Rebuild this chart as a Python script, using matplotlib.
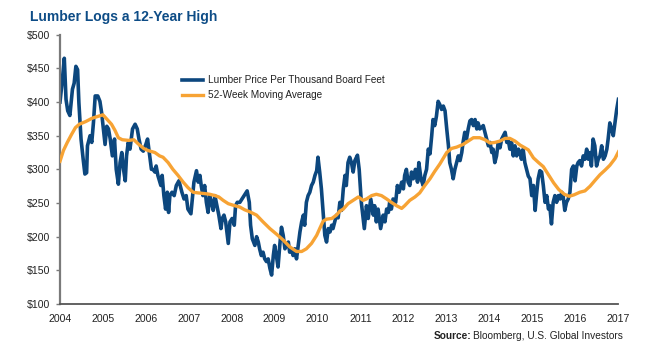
import matplotlib
matplotlib.use("Agg")
import matplotlib.pyplot as plt

# weekly lumber price (decimal year, $ per thousand board feet)
price_year = [
    2004.00, 2004.05, 2004.10, 2004.14, 2004.18, 2004.23, 2004.29, 2004.33, 2004.37, 2004.41,
    2004.44, 2004.49, 2004.54, 2004.58, 2004.62, 2004.64, 2004.70, 2004.74, 2004.78, 2004.82,
    2004.88, 2004.93, 2004.97, 2005.01, 2005.05, 2005.09, 2005.13, 2005.17, 2005.22, 2005.27,
    2005.31, 2005.36, 2005.40, 2005.44, 2005.48, 2005.52, 2005.55, 2005.59, 2005.63, 2005.69,
    2005.75, 2005.80, 2005.84, 2005.89, 2005.94, 2006.00, 2006.04, 2006.07, 2006.13, 2006.17,
    2006.21, 2006.24, 2006.28, 2006.35, 2006.38, 2006.42, 2006.46, 2006.50, 2006.53, 2006.56,
    2006.61, 2006.66, 2006.71, 2006.77, 2006.80, 2006.84, 2006.89, 2006.94, 2006.98, 2007.05,
    2007.09, 2007.12, 2007.18, 2007.22, 2007.26, 2007.29, 2007.33, 2007.37, 2007.41, 2007.45,
    2007.49, 2007.53, 2007.57, 2007.61, 2007.64, 2007.70, 2007.75, 2007.78, 2007.82, 2007.86,
    2007.92, 2007.96, 2008.01, 2008.06, 2008.09, 2008.13, 2008.19, 2008.24, 2008.29, 2008.36,
    2008.41, 2008.44, 2008.48, 2008.54, 2008.58, 2008.62, 2008.65, 2008.69, 2008.73, 2008.77,
    2008.81, 2008.85, 2008.89, 2008.93, 2008.97, 2009.00, 2009.04, 2009.08, 2009.12, 2009.16,
    2009.20, 2009.24, 2009.28, 2009.32, 2009.35, 2009.39, 2009.43, 2009.47, 2009.51, 2009.55,
    2009.59, 2009.63, 2009.67, 2009.70, 2009.74, 2009.78, 2009.82, 2009.86, 2009.90, 2009.94,
    2009.98, 2010.01, 2010.05, 2010.09, 2010.13, 2010.17, 2010.21, 2010.25, 2010.29, 2010.33,
    2010.36, 2010.40, 2010.44, 2010.48, 2010.52, 2010.56, 2010.60, 2010.64, 2010.67, 2010.71,
    2010.75, 2010.79, 2010.83, 2010.87, 2010.93, 2010.97, 2011.02, 2011.09, 2011.14, 2011.18,
    2011.24, 2011.30, 2011.33, 2011.37, 2011.41, 2011.47, 2011.53, 2011.57, 2011.61, 2011.65,
    2011.68, 2011.72, 2011.76, 2011.82, 2011.86, 2011.90, 2011.96, 2012.00, 2012.03, 2012.07,
    2012.11, 2012.15, 2012.19, 2012.23, 2012.28, 2012.33, 2012.36, 2012.41, 2012.46, 2012.50,
    2012.54, 2012.58, 2012.62, 2012.66, 2012.69, 2012.73, 2012.77, 2012.81, 2012.85, 2012.89,
    2012.93, 2012.97, 2013.01, 2013.05, 2013.08, 2013.12, 2013.16, 2013.20, 2013.24, 2013.28,
    2013.32, 2013.36, 2013.39, 2013.43, 2013.47, 2013.51, 2013.55, 2013.59, 2013.63, 2013.67,
    2013.71, 2013.74, 2013.78, 2013.82, 2013.86, 2013.90, 2013.94, 2013.98, 2014.02, 2014.06,
    2014.09, 2014.13, 2014.17, 2014.21, 2014.25, 2014.29, 2014.33, 2014.37, 2014.41, 2014.44,
    2014.48, 2014.52, 2014.56, 2014.60, 2014.64, 2014.68, 2014.72, 2014.75, 2014.79, 2014.83,
    2014.87, 2014.91, 2014.95, 2014.99, 2015.03, 2015.07, 2015.10, 2015.14, 2015.18, 2015.22,
    2015.26, 2015.30, 2015.34, 2015.38, 2015.41, 2015.45, 2015.49, 2015.53, 2015.57, 2015.61,
    2015.65, 2015.69, 2015.72, 2015.76, 2015.80, 2015.84, 2015.88, 2015.92, 2015.96, 2016.00,
    2016.04, 2016.07, 2016.11, 2016.15, 2016.19, 2016.23, 2016.27, 2016.31, 2016.35, 2016.38,
    2016.42, 2016.46, 2016.50, 2016.54, 2016.58, 2016.62, 2016.66, 2016.70, 2016.74, 2016.77,
    2016.81, 2016.85, 2016.89, 2016.93, 2016.97, 2017.01,
]
price_value = [
    400, 430, 465, 404, 387, 380, 419, 428, 453, 448,
    399, 345, 315, 293, 295, 335, 350, 340, 370, 409,
    409, 401, 384, 360, 337, 364, 360, 345, 320, 345,
    300, 278, 310, 325, 300, 283, 320, 340, 330, 360,
    367, 360, 345, 330, 327, 337, 345, 330, 300, 300,
    296, 305, 291, 276, 291, 261, 241, 266, 236, 261,
    266, 261, 276, 283, 276, 266, 256, 261, 241, 234,
    261, 281, 298, 281, 291, 276, 261, 276, 251, 236,
    261, 251, 239, 261, 251, 232, 212, 227, 232, 222,
    190, 222, 227, 217, 246, 251, 251, 256, 261, 268,
    251, 217, 197, 187, 200, 192, 182, 172, 177, 167,
    163, 167, 153, 143, 172, 187, 172, 155, 187, 214,
    202, 182, 187, 192, 177, 182, 172, 182, 167, 187,
    207, 222, 232, 217, 251, 261, 266, 276, 281, 291,
    298, 318, 296, 271, 236, 202, 192, 212, 207, 217,
    212, 222, 232, 228, 251, 239, 271, 291, 276, 310,
    318, 310, 296, 313, 321, 300, 251, 212, 246, 227,
    256, 232, 246, 222, 241, 212, 232, 222, 241, 236,
    251, 241, 256, 251, 276, 266, 281, 271, 291, 300,
    281, 276, 296, 286, 300, 281, 310, 286, 276, 291,
    300, 330, 323, 350, 374, 365, 379, 401, 396, 389,
    394, 387, 360, 335, 310, 300, 286, 300, 310, 320,
    313, 325, 340, 355, 345, 360, 372, 374, 365, 374,
    360, 369, 360, 362, 365, 355, 345, 335, 340, 325,
    330, 310, 320, 340, 332, 345, 350, 355, 340, 345,
    330, 340, 320, 335, 320, 330, 325, 315, 330, 310,
    300, 290, 286, 261, 276, 239, 261, 286, 298, 296,
    276, 251, 261, 241, 246, 219, 251, 261, 251, 261,
    256, 266, 261, 239, 251, 256, 266, 300, 305, 283,
    305, 310, 313, 305, 320, 315, 330, 315, 325, 305,
    345, 335, 305, 315, 320, 335, 315, 320, 330, 345,
    369, 360, 350, 369, 389, 404,
]

# 52-week moving average
ma_year = [
    2004.00, 2004.08, 2004.17, 2004.27, 2004.36, 2004.45, 2004.60, 2004.75, 2004.90, 2005.00,
    2005.10, 2005.20, 2005.28, 2005.36, 2005.45, 2005.60, 2005.72, 2005.82, 2005.95, 2006.05,
    2006.21, 2006.32, 2006.40, 2006.52, 2006.63, 2006.75, 2006.87, 2006.98, 2007.10, 2007.22,
    2007.37, 2007.49, 2007.61, 2007.70, 2007.80, 2007.92, 2008.07, 2008.19, 2008.30, 2008.42,
    2008.58, 2008.73, 2008.89, 2009.04, 2009.20, 2009.35, 2009.51, 2009.63, 2009.74, 2009.86,
    2009.98, 2010.05, 2010.13, 2010.21, 2010.33, 2010.44, 2010.52, 2010.60, 2010.71, 2010.83,
    2010.95, 2011.06, 2011.14, 2011.26, 2011.37, 2011.49, 2011.61, 2011.72, 2011.84, 2011.96,
    2012.03, 2012.15, 2012.27, 2012.38, 2012.50, 2012.62, 2012.73, 2012.85, 2013.01, 2013.12,
    2013.24, 2013.39, 2013.51, 2013.63, 2013.78, 2013.90, 2014.02, 2014.13, 2014.25, 2014.37,
    2014.48, 2014.60, 2014.72, 2014.83, 2014.91, 2015.03, 2015.15, 2015.26, 2015.38, 2015.50,
    2015.62, 2015.75, 2015.86, 2015.97, 2016.11, 2016.23, 2016.35, 2016.47, 2016.58, 2016.70,
    2016.81, 2016.93, 2017.01,
]
ma_value = [
    312, 328, 340, 352, 362, 367, 371, 376, 379, 381,
    374, 367, 358, 347, 344, 343, 344, 338, 331, 328,
    325, 320, 318, 310, 300, 291, 281, 273, 266, 265,
    264, 263, 261, 259, 254, 249, 246, 244, 240, 237,
    232, 222, 212, 204, 195, 185, 178, 178, 182, 190,
    202, 212, 223, 226, 227, 232, 238, 241, 249, 254,
    259, 254, 256, 261, 263, 261, 256, 251, 246, 242,
    246, 254, 259, 265, 276, 286, 297, 308, 325, 331,
    333, 337, 342, 347, 347, 344, 339, 340, 342, 346,
    346, 342, 336, 332, 329, 317, 310, 304, 292, 280,
    270, 263, 260, 262, 266, 268, 275, 284, 292, 299,
    306, 316, 326,
]

years = list(range(2004, 2018))
y_ticks = [100, 150, 200, 250, 300, 350, 400, 450, 500]

BLUE = "#0c477e"
ORANGE = "#f7a334"
TITLE = "#0d4c86"
TEXT = "#222222"
FONT = ["Liberation Sans", "DejaVu Sans"]

fig = plt.figure(figsize=(6.49, 3.51), dpi=100)
ax = fig.add_axes([60 / 649, 1 - 304 / 351, 558 / 649, (304 - 34.7) / 351])

ax.plot(price_year, price_value, color=BLUE, lw=2.6, solid_joinstyle="round",
        label="Lumber Price Per Thousand Board Feet", zorder=2)
ax.plot(ma_year, ma_value, color=ORANGE, lw=2.4, label="52-Week Moving Average", zorder=3)

ax.set_xlim(2004, 2017)
ax.set_ylim(100, 500)
ax.set_xticks(years)
ax.set_xticklabels([str(y) for y in years])
ax.set_yticks(y_ticks)
ax.set_yticklabels([f"${v}" for v in y_ticks])

for side in ("top", "right"):
    ax.spines[side].set_visible(False)
ax.spines["left"].set_color("#7a7a7a")
ax.spines["left"].set_linewidth(1.6)
ax.spines["bottom"].set_color("#555555")
ax.spines["bottom"].set_linewidth(1.3)

ax.tick_params(axis="y", length=3, width=1, color="#7a7a7a", pad=4, labelsize=7.6, labelcolor=TEXT)
ax.tick_params(axis="x", length=0, pad=7, labelsize=7.6, labelcolor=TEXT)
for lab in ax.get_xticklabels() + ax.get_yticklabels():
    lab.set_family(FONT)

leg = ax.legend(loc="upper left", bbox_to_anchor=(177 / 649, 1 - 70 / 351),
                bbox_transform=fig.transFigure, frameon=False, borderpad=0,
                handlelength=2.1, handletextpad=0.45, labelspacing=0.5,
                prop={"family": FONT, "size": 7.2})
for t in leg.get_texts():
    t.set_color(TEXT)

fig.text(30 / 649, 1 - 16.7 / 351, "Lumber Logs a 12-Year High", color=TITLE,
         fontsize=10, fontweight="bold", family=FONT, va="center", ha="left")

src = fig.text(623 / 649, 1 - 336 / 351, "Bloomberg, U.S. Global Investors", color=TEXT,
               fontsize=7.3, family=FONT, va="center", ha="right")
fig.canvas.draw()
bb = src.get_window_extent()
fig.text(bb.x0 / fig.bbox.width - 2 / 649, 1 - 336 / 351, "Source:", color=TEXT,
         fontsize=7.3, fontweight="bold", family=FONT, va="center", ha="right")

fig.savefig("out.png", dpi=100)
